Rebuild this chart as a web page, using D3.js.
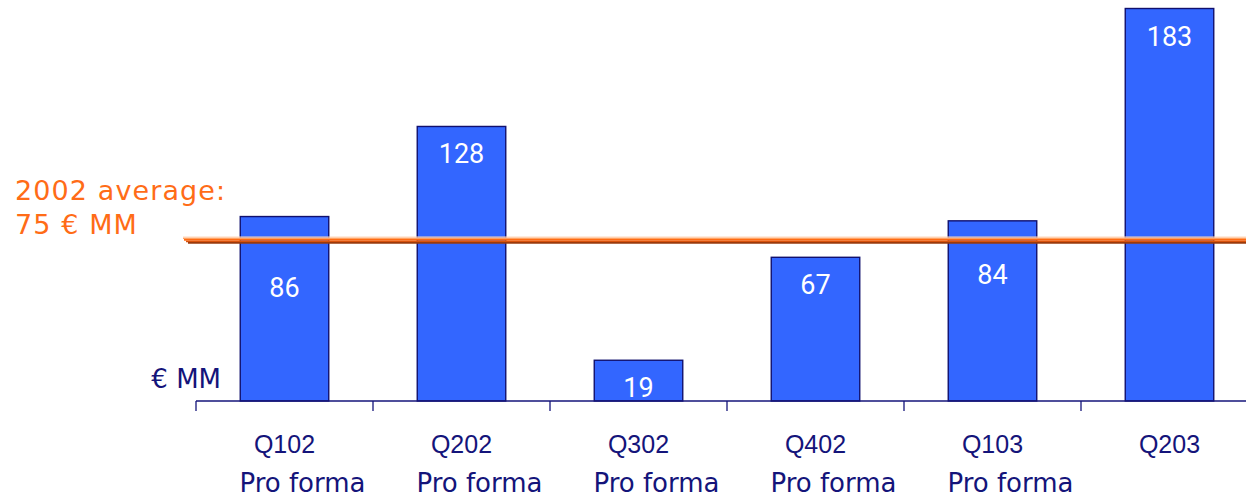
<!DOCTYPE html>
<html>
<head>
<meta charset="utf-8">
<script src="https://cdn.jsdelivr.net/npm/d3@7"></script>
<style>
  html, body { margin: 0; padding: 0; background: #ffffff; }
  svg { display: block; }
</style>
</head>
<body>
<svg id="chart" width="1246" height="499"></svg>
<script>
// Quarterly result, € MM
const quarters = ["Q102", "Q202", "Q302", "Q402", "Q103", "Q203"];
const subLabels = ["Pro forma", "Pro forma", "Pro forma", "Pro forma", "Pro forma", ""];
const values = [86, 128, 19, 67, 84, 183];
const averageValue = 75;
const averageLabel = ["2002 average:", "75 € MM"];
const unitLabel = "€ MM";

// Layout
const W = 1246, H = 499;
const baseY = 401, topY = 8.5;
const axisLeft = 196, step = 177;
// distance from bar top to the value label baseline
const labelDrop = [80, 37, 37, 37, 63, 37];

const navy = "#14147a";
const barFill = "#3366ff";
const orange = "#ff6c17";

const svg = d3.select("#chart");

const x = d3.scaleBand()
  .domain(quarters)
  .range([axisLeft, axisLeft + step * quarters.length])
  .paddingInner(0.5)
  .paddingOuter(0.25);

const y = d3.scaleLinear()
  .domain([0, d3.max(values)])
  .range([baseY, topY]);

// Bars
svg.append("g").selectAll("rect")
  .data(values)
  .join("rect")
  .attr("x", (d, i) => x(quarters[i]))
  .attr("y", d => y(d))
  .attr("width", x.bandwidth())
  .attr("height", d => y(0) - y(d))
  .attr("fill", barFill)
  .attr("stroke", "#10106e")
  .attr("stroke-width", 1.4);

// Value labels inside bars
svg.append("g").selectAll("text")
  .data(values)
  .join("text")
  .attr("x", (d, i) => x(quarters[i]) + x.bandwidth() / 2)
  .attr("y", (d, i) => y(d) + labelDrop[i])
  .attr("text-anchor", "middle")
  .attr("font-family", "Roboto, sans-serif")
  .attr("font-size", 27)
  .attr("fill", "#ffffff")
  .text(d => d);

// 2002 average line, drawn as stacked stripes for a shaded look
const yc = y(averageValue);
const stripes = [
  { dy: -3, w: 1.2, c: "#ffd8bc", x0: 183 },
  { dy: -1.8, w: 1.4, c: "#ffa264", x0: 183 },
  { dy: -0.3, w: 1.8, c: "#ff6a12", x0: 184 },
  { dy: 1.3, w: 1.4, c: "#d8520c", x0: 186 },
  { dy: 2.7, w: 1.6, c: "#9a3a0c", x0: 188 }
];
svg.append("g").selectAll("line")
  .data(stripes)
  .join("line")
  .attr("x1", d => d.x0)
  .attr("x2", W)
  .attr("y1", d => yc + d.dy)
  .attr("y2", d => yc + d.dy)
  .attr("stroke", d => d.c)
  .attr("stroke-width", d => d.w);

// Average annotation
svg.append("g").selectAll("text")
  .data(averageLabel)
  .join("text")
  .attr("x", 15)
  .attr("y", (d, i) => 199.5 + i * 34)
  .attr("font-family", "'DejaVu Sans', Verdana, sans-serif")
  .attr("font-size", 27)
  .attr("letter-spacing", 1.1)
  .attr("fill", orange)
  .text(d => d);

// Unit label
svg.append("text")
  .attr("x", 221)
  .attr("y", 388)
  .attr("text-anchor", "end")
  .attr("font-family", "'DejaVu Sans', Verdana, sans-serif")
  .attr("font-size", 26)
  .attr("fill", navy)
  .text(unitLabel);

// Category axis: baseline with ticks on band boundaries
const axis = svg.append("g").attr("stroke", navy).attr("stroke-width", 1.3);
const [r0, r1] = x.range();
axis.append("line")
  .attr("x1", r0).attr("x2", r1)
  .attr("y1", baseY).attr("y2", baseY);
axis.selectAll("line.tick")
  .data(d3.range(quarters.length + 1))
  .join("line")
  .attr("class", "tick")
  .attr("x1", i => r0 + i * x.step())
  .attr("x2", i => r0 + i * x.step())
  .attr("y1", baseY)
  .attr("y2", baseY + 10);

// Category labels
const labels = svg.append("g").attr("fill", navy);
labels.selectAll("text.q")
  .data(quarters)
  .join("text")
  .attr("class", "q")
  .attr("x", d => x(d) + x.bandwidth() / 2)
  .attr("y", 453)
  .attr("text-anchor", "middle")
  .attr("font-family", "'Liberation Sans', Arial, sans-serif")
  .attr("font-size", 25)
  .text(d => d);
labels.selectAll("text.sub")
  .data(subLabels)
  .join("text")
  .attr("class", "sub")
  .attr("x", (d, i) => x(quarters[i]) + x.bandwidth() / 2 + 18)
  .attr("y", 492)
  .attr("text-anchor", "middle")
  .attr("font-family", "'DejaVu Sans', Verdana, sans-serif")
  .attr("font-size", 26)
  .text(d => d);
</script>
</body>
</html>
